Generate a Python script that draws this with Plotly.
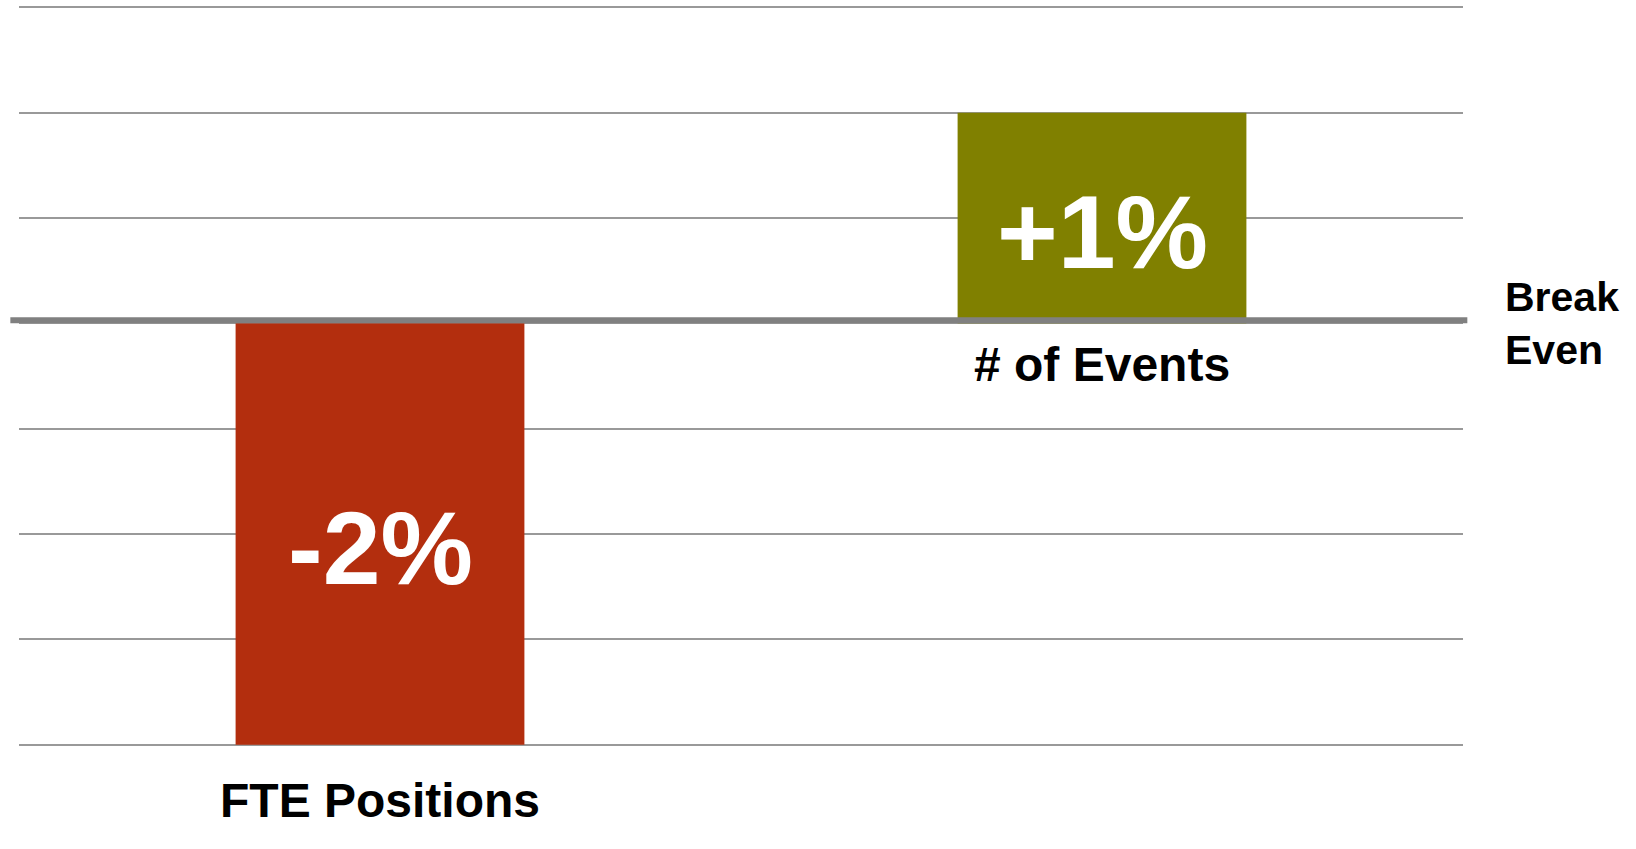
import plotly.graph_objects as go

# ── Data ──────────────────────────────────────────────────────────────────────
categories = ["FTE Positions", "# of Events"]
changes = [-2, 1]                      # percent change vs. break even
value_labels = ["-2%", "+1%"]
bar_colors = ["#B32E0E", "#808000"]

FONT = "Liberation Sans, Arial, Helvetica, sans-serif"

fig = go.Figure(go.Bar(
    x=categories, y=changes,
    width=0.4,
    marker=dict(color=bar_colors, line=dict(width=0)),
    hoverinfo="skip",
))

# big white value labels inside the bars
for cat, val, lab in zip(categories, changes, value_labels):
    fig.add_annotation(
        x=cat, y=val / 2, text=lab, showarrow=False,
        yshift=-14,
        font=dict(family=FONT, size=104, color="white", weight="bold"),
    )

# category labels: negative bar labelled under the chart, positive under the baseline
fig.add_annotation(
    x=categories[0], y=min(changes), text=categories[0], showarrow=False,
    yshift=-56, font=dict(family=FONT, size=48, color="black", weight="bold"),
)
fig.add_annotation(
    x=categories[1], y=0, text=categories[1], showarrow=False,
    yshift=-41, font=dict(family=FONT, size=48, color="black", weight="bold"),
)

# break even marker on the right
fig.add_annotation(
    xref="paper", x=1.028, y=0, xanchor="left", align="left",
    text="Break<br>Even", showarrow=False,
    font=dict(family=FONT, size=41, color="black", weight="bold"),
)

# thick baseline drawn over the bars, sitting just above the zero gridline
fig.add_shape(
    type="line", xref="paper", yref="y", ysizemode="pixel", yanchor=0,
    x0=-0.006, x1=1.003, y0=3, y1=3,
    line=dict(color="#808080", width=6), layer="above",
)

fig.update_layout(
    width=1636, height=849,
    paper_bgcolor="white", plot_bgcolor="white",
    margin=dict(l=19, r=173, t=1, b=98),
    showlegend=False,
)
fig.update_xaxes(showticklabels=False, showgrid=False, zeroline=False,
                 showline=False, ticks="", range=[-0.5, 1.5])
fig.update_yaxes(range=[-2.03, 1.53], dtick=0.5, tick0=0, showticklabels=False,
                 showgrid=True, gridcolor="#999999", gridwidth=2,
                 zeroline=False, showline=False, ticks="")

fig.write_html("out.html", config={"displayModeBar": False},
               post_script="document.body.style.margin = '0';")
